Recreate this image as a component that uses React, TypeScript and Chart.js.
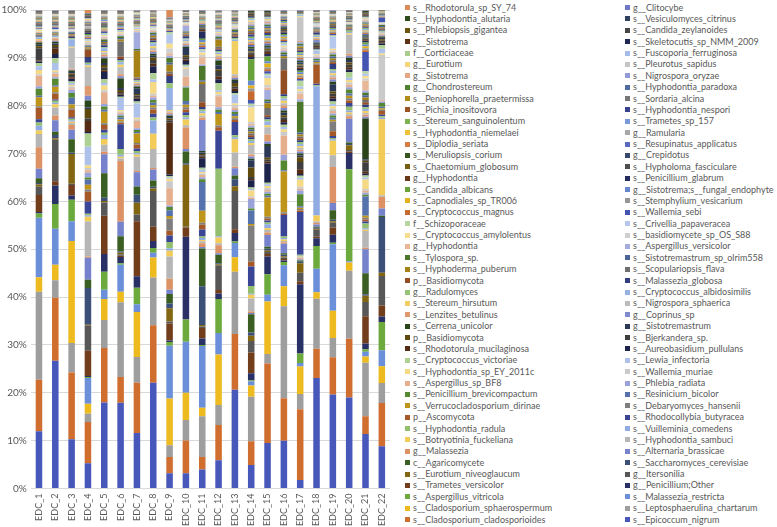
import { useEffect, useRef } from "react";
import Chart from "chart.js/auto";

const categories = ["EDC_1","EDC_2","EDC_3","EDC_4","EDC_5","EDC_6","EDC_7","EDC_8","EDC_9","EDC_10","EDC_11","EDC_12","EDC_13","EDC_14","EDC_15","EDC_16","EDC_17","EDC_18","EDC_19","EDC_20","EDC_21","EDC_22"];

const yTicks = [0,10,20,30,40,50,60,70,80,90,100];

// legend, as displayed (left column, right column), top to bottom
const legendLeft = [
  "s__Rhodotorula_sp_SY_74","s__Hyphodontia_alutaria","s__Phlebiopsis_gigantea","g__Sistotrema","f__Corticiaceae","g__Eurotium","g__Sistotrema","g__Chondrostereum","s__Peniophorella_praetermissa","s__Pichia_inositovora","s__Stereum_sanguinolentum","s__Hyphodontia_niemelaei","s__Diplodia_seriata","s__Meruliopsis_corium","s__Chaetomium_globosum","g__Hyphodontia","s__Candida_albicans","s__Capnodiales_sp_TR006","s__Cryptococcus_magnus","f__Schizoporaceae","s__Cryptococcus_amylolentus","g__Hyphodontia","s__Tylospora_sp.","s__Hyphoderma_puberum","p__Basidiomycota","g__Radulomyces","s__Stereum_hirsutum","s__Lenzites_betulinus","s__Cerrena_unicolor","p__Basidiomycota","s__Rhodotorula_mucilaginosa","s__Cryptococcus_victoriae","s__Hyphodontia_sp_EY_2011c","s__Aspergillus_sp_BF8","s__Penicillium_brevicompactum","s__Verrucocladosporium_dirinae","p__Ascomycota","s__Hyphodontia_radula","s__Botryotinia_fuckeliana","g__Malassezia","c__Agaricomycete","s__Eurotium_niveoglaucum","s__Trametes_versicolor","s__Aspergillus_vitricola","s__Cladosporium_sphaerospermum","s__Cladosporium_cladosporioides"
];
const legendRight = [
  "g__Clitocybe","s__Vesiculomyces_citrinus","s__Candida_zeylanoides","s__Skeletocutis_sp_NMM_2009","s__Fuscoporia_ferruginosa","s__Pleurotus_sapidus","s__Nigrospora_oryzae","s__Hyphodontia_paradoxa","s__Sordaria_alcina","s__Hyphodontia_nespori","s__Trametes_sp_157","g__Ramularia","s__Resupinatus_applicatus","g__Crepidotus","s__Hypholoma_fasciculare","s__Penicillium_glabrum","g__Sistotrema;s__fungal_endophyte","s__Stemphylium_vesicarium","s__Wallemia_sebi","s__Crivellia_papaveracea","s__basidiomycete_sp_OS_S88","s__Aspergillus_versicolor","s__Sistotremastrum_sp_olrim558","s__Scopulariopsis_flava","s__Malassezia_globosa","s__Cryptococcus_albidosimilis","s__Nigrospora_sphaerica","g__Coprinus_sp","g__Sistotremastrum","s__Bjerkandera_sp.","s__Aureobasidium_pullulans","s__Lewia_infectoria","s__Wallemia_muriae","s__Phlebia_radiata","s__Resinicium_bicolor","s__Debaryomyces_hansenii","s__Rhodocollybia_butyracea","s__Vuilleminia_comedens","s__Hyphodontia_sambuci","s__Alternaria_brassicae","s__Saccharomyces_cerevisiae","g__Itersonilia","g__Penicillium;Other","s__Malassezia_restricta","s__Leptosphaerulina_chartarum","s__Epicoccum_nigrum"
];

// relative abundance (%) of each taxon per sample, in stacking order (bottom first)
const EDC_1 = [12.0,10.8,18.5,3.0,12.5,0.9, 0.3,3.6,1.7,0.5,0.3,1.0, 2.0,4.5,2.8,0.7,1.0,0.7, 0.7,2.4,0.3,1.9,0.3,1.5, 0.5,2.2,0.3,0.9,0.8,0.7, 0.3,0.2,2.6,0.4,0.3,0.5, 0.1,0.3,0.1,0.2,0.4,0.1, 0.2,0.1,0.1,0.1,0.1,0.1, 0.1,0.2,0.1,0.3,0.1,0.1, 0.1,0.1,0.1,0.1,0.2,0.1, 0.2,0.1,0.1,0.1,0.1,0.1, 0.1,0.1,0.1,0.1,0.1,0.1, 0.1,0.1,0.1,0.1,0.1,0.1, 0.1,0.1,0.1,0.1,0.1,0.1, 0.1,0.1,0.1,0.1,0.1,0.1, 0.1,0.1];
const EDC_2 = [27.0,13.3,3.7,3.3,7.6,5.2, 3.9,0.9,8.8,0.3,0.7,0.7, 2.4,1.0,1.7,0.7,0.3,0.4, 0.3,1.2,0.3,1.2,0.3,1.4, 0.3,0.8,0.3,0.3,1.6,1.0, 0.9,1.2,0.3,0.4,0.3,0.4, 0.2,0.5,0.2,0.1,0.2,0.1, 0.1,0.1,0.2,0.1,0.1,0.1, 0.1,0.1,0.1,0.2,0.1,0.1, 0.3,0.1,0.1,0.1,0.1,0.1, 0.1,0.1,0.1,0.1,0.1,0.1, 0.1,0.1,0.1,0.1,0.1,0.1, 0.1,0.1,0.1,0.1,0.1,0.1, 0.1,0.1,0.1,0.1,0.1,0.1, 0.1,0.1,0.1,0.1,0.1,0.1, 0.1,0.1];
const EDC_3 = [10.3,14.0,6.2,21.4,4.1,4.5, 0.9,2.2,0.3,6.2,0.3,2.8, 2.0,1.0,0.4,0.3,0.3,0.3, 0.3,1.6,0.3,0.8,1.4,1.0, 0.7,0.3,0.4,0.3,0.4,0.3, 0.6,0.3,0.5,0.3,0.3,0.3, 0.2,0.2,4.4,0.2,1.5,0.3, 0.3,0.2,0.1,0.2,0.4,0.1, 0.1,0.1,0.1,0.1,0.1,0.1, 0.1,0.2,0.1,0.1,0.1,0.1, 0.2,0.1,0.1,0.1,0.1,0.1, 0.1,0.1,0.1,0.1,0.1,0.1, 0.1,0.1,0.1,0.1,0.1,0.1, 0.1,0.1,0.1,0.1,0.1,0.1, 0.1,0.1,0.1,0.1,0.1,0.1, 0.1,0.1];
const EDC_4 = [5.3,8.6,1.7,2.1,5.4,0.2, 0.2,5.3,5.2,0.2,7.7,1.7, 4.6,0.3,7.3,1.0,0.3,0.3, 2.6,2.0,0.5,1.0,1.0,0.5, 1.0,0.5,0.5,0.5,3.9,2.8, 0.3,2.3,0.5,2.0,0.3,1.5, 1.0,2.0,4.0,0.3,0.3,0.3, 1.2,1.5,0.2,0.3,0.2,0.2, 0.2,0.2,0.3,0.2,0.2,0.2, 0.2,0.2,0.2,0.1,0.2,0.2, 0.3,0.1,0.2,0.1,0.1,0.1, 0.2,0.1,0.2,0.1,0.1,0.1, 0.2,0.1,0.1,0.1,0.2,0.1, 0.1,0.2,0.1,0.2,0.1,0.1, 0.2,0.1,0.2,0.1,0.1,0.2, 0.1,0.7];
const EDC_5 = [18.0,11.4,5.9,4.4,1.9,3.8, 3.7,8.0,2.8,0.3,0.7,5.1, 4.0,0.5,1.5,1.2,0.8,0.5, 0.6,1.0,0.4,2.4,0.4,0.7, 0.5,2.5,0.4,1.0,0.5,0.8, 1.5,0.4,0.5,0.6,0.4,1.0, 0.3,0.5,0.4,0.3,0.6,0.2, 0.4,0.2,0.3,0.2,0.2,0.3, 0.2,0.3,0.2,0.2,0.3,0.2, 0.3,0.2,0.2,0.2,0.2,0.2, 0.2,0.1,0.2,0.1,0.1,0.1, 0.1,0.1,0.1,0.1,0.2,0.1, 0.1,0.1,0.1,0.1,0.1,0.1, 0.1,0.1,0.1,0.1,0.1,0.1, 0.1,0.1,0.1,0.1,0.1,0.1, 0.1,0.1];
const EDC_6 = [18.0,5.4,15.7,2.2,5.7,0.3, 1.3,0.3,0.3,0.3,0.3,3.2, 3.0,12.8,0.5,0.4,0.4,1.2, 5.2,0.3,0.3,0.4,0.5,0.3, 0.3,0.3,0.3,0.3,2.5,0.3, 0.4,0.3,0.3,0.4,0.4,2.0, 0.5,0.4,1.5,0.5,0.5,0.4, 0.3,0.5,3.2,0.4,0.3,0.4, 0.2,0.2,0.2,0.3,0.2,0.2, 0.2,0.1,0.2,0.1,0.2,0.1, 0.1,0.1,0.2,0.1,0.1,0.1, 0.1,0.1,0.1,0.1,0.1,0.1, 0.1,0.1,0.1,0.1,0.1,0.1, 0.1,0.1,0.1,0.1,0.1,0.1, 0.1,0.1,0.1,0.1,0.1,0.1, 0.1,0.1];
const EDC_7 = [11.7,10.6,5.4,9.5,1.6,3.5, 2.4,11.6,1.4,2.5,1.7,1.7, 3.0,0.3,3.0,0.4,0.3,0.5, 0.5,0.8,0.4,2.0,0.3,0.4, 0.4,1.5,0.4,0.3,3.0,0.4, 0.6,0.3,0.4,0.3,1.2,0.4, 0.2,0.3,0.2,0.2,0.2,0.2, 0.2,0.2,0.2,5.6,0.2,0.2, 3.5,0.2,0.3,0.2,0.3,0.2, 0.1,0.1,0.1,0.1,0.1,0.1, 0.1,0.1,0.1,0.1,0.1,0.1, 0.1,0.1,0.1,0.1,0.1,0.1, 0.1,0.1,0.1,0.1,0.1,0.1, 0.1,0.1,0.1,0.1,0.1,0.1, 0.05,0.05,0.05,0.05,0.05,0.05, 0.1,0.1];
const EDC_8 = [22.2,12.1,10.0,4.2,1.0,1.0, 1.5,3.0,7.5,0.5,0.4,1.3, 2.3,0.3,4.0,3.2,2.8,0.6, 0.8,0.9,0.4,0.5,0.5,0.6, 0.5,0.4,0.4,2.5,0.5,1.3, 1.5,0.5,0.8,0.5,0.4,0.4, 0.4,0.3,0.5,0.4,0.6,0.3, 0.3,0.3,0.3,0.4,0.3,0.3, 0.2,0.2,0.3,0.2,0.3,0.2, 0.2,0.1,0.2,0.1,0.1,0.1, 0.1,0.1,0.1,0.1,0.1,0.1, 0.1,0.1,0.1,0.1,0.1,0.1, 0.1,0.1,0.1,0.1,0.1,0.1, 0.05,0.05,0.05,0.05,0.05,0.05, 0.05,0.05,0.05,0.05,0.05,0.05, 0.1,0.1];
const EDC_9 = [3.2,3.4,2.5,9.8,11.1,0.8, 0.3,3.6,0.4,2.8,1.0,2.0, 0.9,2.3,4.7,1.2,0.5,1.3, 1.4,1.0,2.5,0.6,1.2,0.7, 0.3,3.6,1.5,0.5,0.3,0.3, 0.3,11.0,0.4,0.4,0.3,0.3, 0.3,0.3,0.3,0.3,4.6,1.0, 1.5,0.5,0.4,1.5,0.4,1.0, 0.5,0.5,1.0,1.0,2.0,0.5, 0.2,0.1,0.2,0.1,0.1,0.1, 0.1,0.1,0.1,0.1,0.1,0.1, 0.1,0.1,0.1,0.1,0.1,0.1, 0.05,0.05,0.05,0.05,0.05,0.05, 0.05,0.05,0.05,0.05,0.05,0.05, 0.05,0.05,0.05,0.05,0.05,0.05, 0.1,1.6];
const EDC_10 = [3.2,6.9,4.3,5.7,10.7,4.7, 17.4,1.9,0.2,13.0,0.3,2.5, 0.5,4.5,0.5,1.2,0.4,0.5, 0.6,0.6,0.5,0.5,0.8,2.8, 0.3,2.0,1.6,0.3,0.3,0.3, 0.8,0.3,0.5,0.4,1.5,0.3, 0.3,0.3,0.3,0.2,0.4,0.2, 0.5,0.2,0.2,0.2,0.2,0.2, 1.2,0.2,0.2,0.1,0.2,0.1, 0.1,0.1,0.1,0.1,0.1,0.1, 0.1,0.1,0.1,0.1,0.1,0.1, 0.05,0.05,0.05,0.05,0.05,0.05, 0.05,0.05,0.05,0.05,0.05,0.05, 0.05,0.05,0.05,0.05,0.05,0.05, 0.05,0.05,0.05,0.05,0.05,0.05, 0.05,0.05];
const EDC_11 = [4.0,2.6,8.5,1.8,12.9,0.2, 1.4,2.2,0.3,0.3,8.1,7.9, 0.3,0.8,0.4,0.3,0.4,0.3, 1.5,1.0,0.4,2.5,6.0,0.6, 0.4,0.5,0.3,0.3,0.5,0.4, 2.0,0.3,0.3,0.3,0.3,0.3, 6.5,0.5,0.4,0.5,0.4,0.4, 0.5,1.0,3.8,0.5,0.3,3.0, 0.3,1.5,0.5,0.5,0.4,0.3, 0.4,0.3,0.4,0.3,0.5,0.3, 1.5,0.3,0.3,0.2,0.3,0.2, 0.2,0.2,0.2,0.2,0.2,0.2, 0.1,0.1,0.1,0.1,0.1,0.1, 0.1,0.1,0.1,0.1,0.1,0.1, 0.1,0.1,0.1,0.1,0.1,0.1, 0.1,0.1];
const EDC_12 = [5.9,7.4,4.2,10.6,4.5,7.1, 1.2,0.7,5.2,0.2,0.2,1.8, 0.3,1.7,0.4,1.2,0.3,14.1, 8.0,0.7,0.4,2.4,0.4,0.5, 0.5,2.3,0.4,0.5,0.4,1.5, 0.8,0.5,1.2,0.4,0.8,1.0, 0.3,0.4,0.3,0.3,0.4,0.3, 0.3,0.3,0.3,1.5,0.3,0.3, 0.3,0.2,0.3,0.2,0.3,0.2, 0.2,0.2,0.2,0.2,0.2,0.2, 0.1,0.1,0.1,0.1,0.1,0.1, 0.1,0.1,0.1,0.1,0.1,0.1, 0.1,0.1,0.1,0.1,0.1,0.1, 0.1,0.1,0.1,0.1,0.1,0.1, 0.05,0.05,0.05,0.05,0.05,0.05, 0.1,0.1];
const EDC_13 = [20.7,11.7,13.1,3.0,3.0,0.3, 1.8,0.8,8.0,1.0,1.5,0.8, 1.5,0.3,3.0,2.8,0.4,0.4, 2.8,0.4,0.4,0.4,0.5,0.4, 0.4,0.5,0.5,0.4,1.8,0.4, 0.4,0.5,0.4,0.8,0.4,0.3, 0.4,0.3,0.4,7.0,0.3,0.3, 0.3,0.3,0.3,0.3,0.3,0.3, 0.2,0.2,0.2,0.2,0.2,0.2, 0.1,0.1,0.1,0.1,0.1,0.1, 0.1,0.1,0.1,0.1,0.1,0.1, 0.1,0.1,0.1,0.1,0.1,0.1, 0.05,0.05,0.05,0.05,0.05,0.05, 0.05,0.05,0.05,0.05,0.05,0.05, 0.05,0.05,0.05,0.05,0.05,0.05, 0.1,0.1];
const EDC_14 = [4.9,5.0,9.3,2.3,0.9,0.2, 1.5,4.3,2.4,1.1,0.7,3.8, 0.3,0.3,2.7,0.8,0.2,1.6, 4.1,1.0,7.5,0.4,2.8,0.4, 2.0,0.3,0.3,1.2,0.3,0.3, 1.5,0.3,0.4,2.0,1.5,0.3, 0.5,0.4,2.0,0.4,0.4,0.4, 0.4,0.4,0.4,0.4,0.4,0.4, 0.4,0.4,0.4,3.0,0.4,0.4, 0.8,1.8,0.6,0.6,1.0,4.5, 0.5,0.4,0.5,0.3,0.5,0.4, 0.4,0.3,0.4,0.3,0.4,0.3, 0.5,0.3,0.4,0.3,0.4,0.3, 0.3,0.3,0.3,0.3,0.3,0.3, 0.3,0.2,0.3,0.2,0.2,0.2, 0.1,0.1];
const EDC_15 = [9.5,16.6,2.0,11.0,1.4,4.3, 3.7,0.5,0.4,0.3,0.4,0.4, 2.5,0.5,0.5,0.4,0.8,0.4, 0.4,0.4,0.4,4.0,0.4,0.4, 0.4,0.4,0.4,0.4,0.4,0.3, 4.0,0.4,0.4,0.4,2.5,0.4, 0.5,1.5,1.5,0.4,0.8,0.4, 0.5,0.4,1.5,1.0,0.4,0.4, 2.0,0.5,0.5,1.5,0.5,0.4, 0.5,0.4,0.4,0.8,0.5,1.0, 0.5,0.4,0.4,0.3,0.3,0.4, 0.4,0.3,0.4,0.4,0.4,0.3, 0.4,0.3,0.4,0.3,0.4,0.3, 0.3,0.3,0.3,0.3,0.3,0.2, 0.2,0.2,0.2,0.2,0.2,0.2, 0.1,0.1];
const EDC_16 = [10.0,8.9,19.2,4.2,4.4,0.7, 0.3,0.3,0.3,0.3,0.3,0.3, 2.0,0.3,0.3,0.3,0.3,0.3, 4.5,0.3,0.3,8.5,0.3,2.0, 1.2,4.0,0.8,0.5,0.5,0.5, 0.5,0.5,0.5,0.5,0.5,0.5, 0.5,0.5,0.5,0.5,0.5,0.5, 0.4,5.0,2.5,0.4,0.4,0.4, 0.4,0.3,0.4,0.3,0.4,0.3, 0.3,0.3,0.3,0.3,0.3,0.3, 0.3,0.2,0.3,0.2,0.3,0.2, 0.2,0.2,0.2,0.2,0.2,0.2, 0.2,0.1,0.2,0.1,0.2,0.1, 0.1,0.1,0.1,0.1,0.1,0.1, 0.1,0.1,0.1,0.1,0.1,0.1, 0.1,0.1];
const EDC_17 = [1.8,14.9,3.2,5.8,0.7,2.0, 14.6,0.6,1.8,2.0,0.3,0.3, 0.2,0.2,0.2,0.2,0.2,0.2, 9.0,0.3,0.3,0.3,0.3,2.5, 0.8,0.4,0.4,1.5,0.4,0.4, 0.4,1.0,1.5,1.0,0.4,0.4, 0.4,0.4,0.4,0.4,0.4,0.4, 0.4,0.4,0.4,0.4,0.4,6.5, 0.5,1.2,0.5,0.5,0.5,1.2, 0.4,0.3,0.4,0.3,0.4,0.3, 0.4,0.3,0.4,0.3,0.4,0.3, 0.3,0.3,0.3,0.3,0.3,0.3, 0.3,0.3,0.3,0.3,0.3,0.3, 0.3,0.3,5.0,0.2,0.3,0.2, 0.1,0.1,0.1,0.1,0.1,0.1, 0.1,0.1];
const EDC_18 = [23.2,6.1,10.5,1.4,4.9,4.8, 1.6,0.3,1.5,0.2,0.2,0.2, 0.5,0.3,0.3,1.3,27.1,0.2, 0.3,4.0,0.3,0.3,0.3,0.3, 0.3,0.2,0.3,0.2,0.8,0.2, 0.3,0.2,0.3,0.2,0.3,0.2, 0.5,0.2,0.2,0.2,0.3,0.2, 0.5,0.2,0.2,0.2,0.2,0.2, 0.2,0.1,0.2,0.1,0.2,0.1, 0.1,0.1,0.1,0.1,0.1,0.1, 0.1,0.1,0.1,0.1,0.1,0.1, 0.1,0.1,0.1,0.1,0.1,0.1, 0.05,0.05,0.05,0.05,0.05,0.05, 0.05,0.05,0.05,0.05,0.05,0.05, 0.05,0.05,0.05,0.05,0.05,0.05, 0.05,0.05];
const EDC_19 = [19.6,7.8,4.0,5.7,13.9,0.3, 1.7,1.5,1.0,0.3,0.3,2.0, 1.5,7.5,2.5,3.0,0.3,0.3, 0.4,1.0,2.0,0.4,0.4,0.5, 0.4,0.5,0.5,0.5,0.5,0.5, 0.6,0.5,0.5,0.5,1.5,0.5, 0.5,0.4,0.5,0.4,0.5,0.4, 1.0,0.4,0.4,0.4,0.4,0.4, 0.3,0.3,0.3,0.3,2.5,0.3, 0.3,0.2,0.3,0.2,0.3,0.2, 0.2,0.2,0.2,0.2,0.2,0.2, 0.1,0.1,0.1,0.1,0.1,0.1, 0.1,0.1,0.1,0.1,0.1,0.1, 0.1,0.1,0.1,0.1,0.1,0.1, 0.1,0.1,0.1,0.1,0.1,0.1, 0.1,0.1];
const EDC_20 = [19.1,12.3,14.3,1.7,0.3,19.3, 3.4,0.3,0.3,1.0,0.3,0.3, 5.0,0.5,0.4,0.4,0.4,0.8, 0.8,0.5,0.5,0.5,0.5,0.8, 0.5,0.5,0.5,0.5,0.5,1.2, 0.5,0.5,0.5,0.5,0.5,0.5, 0.4,0.4,4.0,0.3,0.3,0.3, 0.2,0.2,0.2,0.2,0.2,0.2, 0.1,0.1,0.1,0.1,0.1,0.1, 0.1,0.1,0.1,0.1,0.1,0.1, 0.1,0.1,0.1,0.1,0.1,0.1, 0.05,0.05,0.05,0.05,0.05,0.05, 0.05,0.05,0.05,0.05,0.05,0.05, 0.05,0.05,0.05,0.05,0.05,0.05, 0.05,0.05,0.05,0.05,0.05,0.05, 0.05,0.05];
const EDC_21 = [11.4,3.7,11.2,1.3,1.0,0.5, 1.2,5.7,3.0,1.3,0.3,4.4, 5.0,0.3,3.5,0.3,0.3,1.0, 0.4,0.4,0.4,0.4,4.0,0.4, 0.4,0.4,0.4,2.0,0.4,0.4, 0.4,0.4,2.0,0.3,0.3,8.5, 0.4,0.4,0.4,0.4,0.4,0.4, 0.5,0.5,0.5,0.5,0.5,0.5, 0.5,2.0,0.5,0.5,0.5,0.5, 4.0,0.4,0.4,0.4,0.4,0.4, 0.3,0.2,0.3,0.2,0.3,0.2, 0.3,0.2,0.3,0.2,0.3,0.2, 0.2,0.2,0.2,0.2,0.2,0.2, 0.2,0.2,0.2,0.2,0.2,0.2, 0.2,0.2,0.2,0.2,0.2,0.2, 0.1,0.1];
const EDC_22 = [8.9,9.1,4.2,3.5,3.4,5.9, 1.2,2.3,6.2,0.7,11.7,0.3, 1.5,2.5,0.3,16.0,0.3,0.3, 0.3,0.8,0.3,0.3,0.3,0.8, 0.3,0.3,9.5,0.3,1.0,0.8, 0.3,0.3,0.3,0.3,0.3,0.3, 0.2,0.2,0.2,0.2,0.2,0.2, 0.2,0.2,0.2,0.2,0.2,0.2, 0.1,0.1,0.1,0.1,0.1,0.1, 1.0,0.1,0.1,0.1,0.1,0.1, 0.05,0.05,0.05,0.05,0.05,0.05, 0.05,0.05,0.05,0.05,0.05,0.05, 0.02,0.02,0.02,0.02,0.02,0.02, 0.02,0.02,0.02,0.02,0.02,0.02, 0.02,0.02,0.02,0.02,0.02,0.02, 0.05,0.05];

const samples = [EDC_1,EDC_2,EDC_3,EDC_4,EDC_5,EDC_6,EDC_7,EDC_8,EDC_9,EDC_10,EDC_11,EDC_12,EDC_13,EDC_14,EDC_15,EDC_16,EDC_17,EDC_18,EDC_19,EDC_20,EDC_21,EDC_22];

// ---- styling ----
const ACCENTS = [[72,88,186],[208,110,48],[158,158,158],[237,186,32],[107,143,216],[108,170,62]];
const VARIATIONS = [0,-0.45,0.25,-0.2,0.45,-0.6,0.3,-0.3,0.5,-0.05,-0.5,0.1,-0.25,0.4,-0.55,0.2];
function seriesColor(i: number): string {
  const base = ACCENTS[i % 6];
  const f = VARIATIONS[Math.floor(i / 6) % VARIATIONS.length];
  const c = base.map((v) => Math.round(f < 0 ? v * (1 + f) : v + (255 - v) * f));
  return `rgb(${c[0]},${c[1]},${c[2]})`;
}
const N = legendLeft.length; // 46 rows
// stacking order (bottom first) interleaves right/left legend columns from the bottom up
const seriesNames: string[] = [];
for (let k = 1; k <= N; k++) {
  seriesNames.push(legendRight[N - k]);
  seriesNames.push(legendLeft[N - k]);
}

const TEXT = "#595959";
const FONT = "Lato, 'Open Sans', sans-serif";

export default function App() {
  const ref = useRef<HTMLCanvasElement>(null);
  useEffect(() => {
    const totals = samples.map((s) => s.reduce((a, b) => a + b, 0));
    const datasets = seriesNames.map((name, i) => ({
      label: name,
      data: samples.map((s, j) => (s[i] / totals[j]) * 100),
      backgroundColor: seriesColor(i),
      borderWidth: 0,
      barPercentage: 0.4,
      categoryPercentage: 1,
    }));
    const chart = new Chart(ref.current!, {
      type: "bar",
      data: { labels: categories, datasets },
      options: {
        animation: false,
        responsive: false,
        maintainAspectRatio: false,
        layout: { padding: { top: 0, right: 10, left: 0, bottom: 0 } },
        plugins: { legend: { display: false }, tooltip: { enabled: false } },
        scales: {
          x: {
            stacked: true,
            grid: { display: false, drawTicks: false },
            border: { display: false },
            ticks: {
              minRotation: 90, maxRotation: 90, autoSkip: false,
              color: TEXT, font: { family: FONT, size: 9 }, padding: 5,
            },
            afterFit: (s: any) => { s.height = 38.5; },
          },
          y: {
            stacked: true, min: 0, max: 100,
            afterBuildTicks: (s: any) => { s.ticks = yTicks.map((v) => ({ value: v })); },
            ticks: {
              color: TEXT, font: { family: FONT, size: 10 }, padding: 4,
              callback: (v: any) => v + "%",
            },
            grid: { color: "#D9D9D9", drawTicks: false, lineWidth: 1 },
            border: { display: false },
            afterFit: (s: any) => { s.width = 30.8; },
          },
        },
      },
    });
    return () => chart.destroy();
  }, []);

  const rowH = 11.38;
  const rows = legendLeft.map((_, r) => r);
  const textStyle = (left: number, y: number) => ({
    position: "absolute" as const, left, top: y - 6, height: 12, lineHeight: "12px",
    fontSize: 9, fontFamily: FONT, color: TEXT, whiteSpace: "nowrap" as const,
  });
  return (
    <div style={{ position: "fixed", left: 0, top: 0, width: 777, height: 527, background: "#fff", overflow: "hidden" }}>
      <canvas ref={ref} width={400} height={527} style={{ position: "absolute", left: 0, top: 0, width: 400, height: 527 }} />
      {rows.map((r) => {
        const y = 7.5 + r * rowH;
        const li = 91 - 2 * r;
        const ri = 90 - 2 * r;
        return (
          <div key={r}>
            <div style={{ position: "absolute", left: 405, top: y - 2.5, width: 5, height: 5, background: seriesColor(li) }} />
            <div style={textStyle(413, y)}>{legendLeft[r]}</div>
            <div style={{ position: "absolute", left: 625, top: y - 2.5, width: 5, height: 5, background: seriesColor(ri) }} />
            <div style={textStyle(633, y)}>{legendRight[r]}</div>
          </div>
        );
      })}
    </div>
  );
}
